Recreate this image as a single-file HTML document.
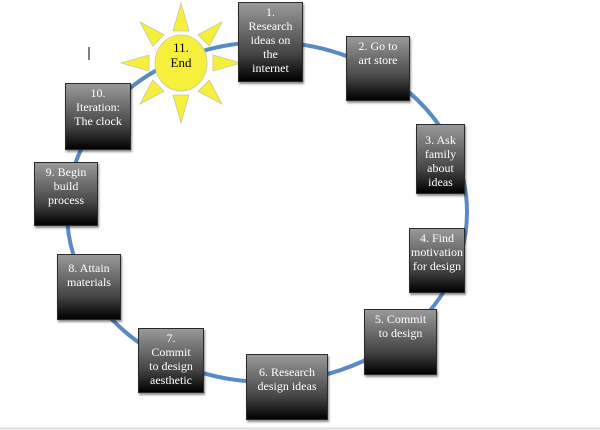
<!DOCTYPE html>
<html><head><style>
body{margin:0;width:600px;height:430px;background:#fff;position:relative;overflow:hidden;font-family:"Liberation Serif",serif}
.b{position:absolute;background:linear-gradient(#999,#444 65%,#000);border:1px solid #2a2a2a;box-shadow:1px 2px 2px rgba(0,0,0,.45);color:#fff;font-size:12px;line-height:14px;text-align:center;box-sizing:border-box;padding-top:2px}
</style></head><body>
<svg width="600" height="430" style="position:absolute;left:0;top:0">
<ellipse cx="267" cy="212" rx="200" ry="170" fill="none" stroke="#5a8ac6" stroke-width="4"/>
<g fill="#f6f03c" stroke="#c8c8a0" stroke-width="0.8">
<g transform="translate(181,63)">
<polygon points="-8,-32 8,-32 0,-60"/>
<polygon points="-8,32 8,32 0,60"/>
<polygon points="-32,-8 -32,8 -60,0"/>
<polygon points="32,-8 32,8 60,0"/>
<polygon points="-8,-32 8,-32 0,-58" transform="rotate(45)"/>
<polygon points="-8,-32 8,-32 0,-58" transform="rotate(135)"/>
<polygon points="-8,-32 8,-32 0,-58" transform="rotate(225)"/>
<polygon points="-8,-32 8,-32 0,-58" transform="rotate(315)"/>
<ellipse cx="0" cy="0" rx="26" ry="28"/>
</g></g>
<text x="181" y="52" font-size="13" text-anchor="middle" font-family="Liberation Serif">11.</text>
<text x="181" y="67" font-size="13" text-anchor="middle" font-family="Liberation Serif">End</text>
<line x1="89" y1="47" x2="89" y2="60" stroke="#000" stroke-width="1"/>
<line x1="0" y1="428.5" x2="600" y2="428.5" stroke="#ddd" stroke-width="2"/>
</svg>
<div class="b" style="left:238px;top:2px;width:65px;height:80px">1.<br>Research<br>ideas on<br>the<br>internet</div>
<div class="b" style="left:346px;top:36px;width:64px;height:65px">2. Go to<br>art store</div>
<div class="b" style="left:416px;top:124px;width:49px;height:70px;padding-top:8px">3. Ask<br>family<br>about<br>ideas</div>
<div class="b" style="left:409px;top:228px;width:56px;height:65px">4. Find<br>motivation<br>for design</div>
<div class="b" style="left:364px;top:309px;width:73px;height:66px">5. Commit<br>to design</div>
<div class="b" style="left:246px;top:354px;width:82px;height:66px;padding-top:10px">6. Research<br>design ideas</div>
<div class="b" style="left:138px;top:328px;width:66px;height:65px">7.<br>Commit<br>to design<br>aesthetic</div>
<div class="b" style="left:57px;top:254px;width:64px;height:66px;padding-top:6px">8. Attain<br>materials</div>
<div class="b" style="left:34px;top:162px;width:64px;height:64px">9. Begin<br>build<br>process</div>
<div class="b" style="left:65px;top:83px;width:66px;height:67px">10.<br>Iteration:<br>The clock</div>
</body></html>
